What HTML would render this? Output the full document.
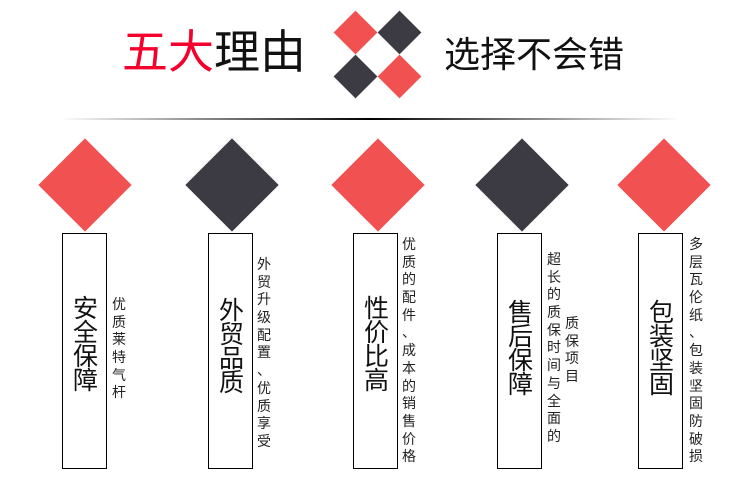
<!DOCTYPE html>
<html><head><meta charset="utf-8"><style>
body{margin:0;width:750px;height:482px;background:#fff;position:relative;overflow:hidden;font-family:"Liberation Sans","Noto Sans CJK SC",sans-serif;color:#111}
.a{position:absolute}
.d{position:absolute;transform:rotate(45deg)}
.r{background:#f25152}.k{background:#3c3b43}
.box{position:absolute;top:233px;width:45px;height:236px;border:1px solid #000;box-sizing:border-box}
.bt{position:absolute;top:297px;width:25px;font-size:25px;line-height:24px;text-align:center}
.st{position:absolute;width:14px;font-size:14px;line-height:17.7px;color:#222}
.st span{display:block;height:17.7px}
</style></head><body>
<div class="a" style="left:122px;top:24px;font-size:46px;line-height:56px;white-space:nowrap"><span style="color:#f5002d">五大</span>理由</div>
<div class="d r" style="left:340px;top:17px;width:31px;height:31px"></div>
<div class="d k" style="left:384px;top:17px;width:31px;height:31px"></div>
<div class="d k" style="left:340px;top:61px;width:31px;height:31px"></div>
<div class="d r" style="left:384px;top:61px;width:31px;height:31px"></div>
<div class="a" style="left:444px;top:33px;font-size:36px;line-height:44px;white-space:nowrap">选择不会错</div>
<div class="a" style="left:60px;top:118px;width:620px;height:2px;background:linear-gradient(to right,rgba(0,0,0,0),#000 50%,rgba(0,0,0,0))"></div>

<div class="d r" style="left:52px;top:152px;width:66px;height:66px"></div>
<div class="d k" style="left:199px;top:152px;width:66px;height:66px"></div>
<div class="d r" style="left:345px;top:152px;width:66px;height:66px"></div>
<div class="d k" style="left:489px;top:152px;width:66px;height:66px"></div>
<div class="d r" style="left:631px;top:152px;width:66px;height:66px"></div>

<div class="box" style="left:62px"></div>
<div class="box" style="left:208px"></div>
<div class="box" style="left:353px"></div>
<div class="box" style="left:497px"></div>
<div class="box" style="left:638px"></div>

<div class="bt" style="left:73px">安全保障</div>
<div class="bt" style="left:219px;top:299px">外贸品质</div>
<div class="bt" style="left:364px">性价比高</div>
<div class="bt" style="left:508px;top:301px">售后保障</div>
<div class="bt" style="left:649px;top:301px">包装坚固</div>

<div class="st" style="left:112px;top:296px"><span>优</span><span>质</span><span>莱</span><span>特</span><span>气</span><span>杆</span></div>
<div class="st" style="left:257px;top:256px"><span>外</span><span>贸</span><span>升</span><span>级</span><span>配</span><span>置</span><span>、</span><span>优</span><span>质</span><span>享</span><span>受</span></div>
<div class="st" style="left:402px;top:236px"><span>优</span><span>质</span><span>的</span><span>配</span><span>件</span><span>、</span><span>成</span><span>本</span><span>的</span><span>销</span><span>售</span><span>价</span><span>格</span></div>
<div class="st" style="left:547px;top:251px"><span>超</span><span>长</span><span>的</span><span>质</span><span>保</span><span>时</span><span>间</span><span>与</span><span>全</span><span>面</span><span>的</span></div>
<div class="st" style="left:565px;top:315px"><span>质</span><span>保</span><span>项</span><span>目</span></div>
<div class="st" style="left:689px;top:236px"><span>多</span><span>层</span><span>瓦</span><span>伦</span><span>纸</span><span>、</span><span>包</span><span>装</span><span>坚</span><span>固</span><span>防</span><span>破</span><span>损</span></div>
</body></html>
